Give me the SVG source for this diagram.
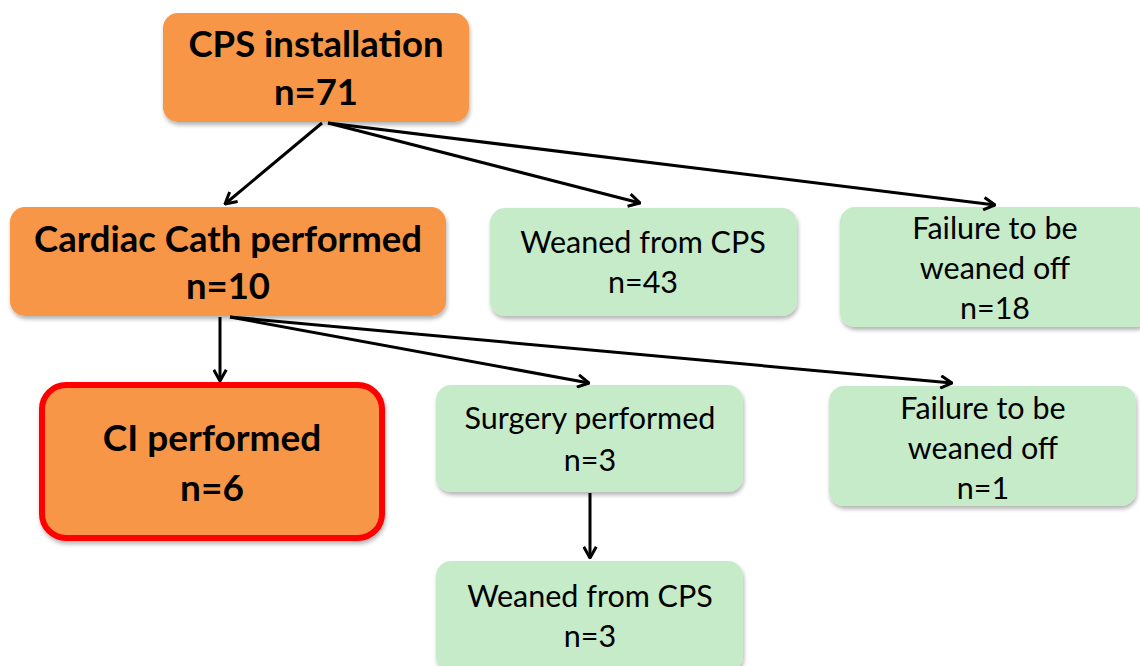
<svg xmlns="http://www.w3.org/2000/svg" width="1140" height="666" viewBox="0 0 1140 666">
<style>
.or{fill:#F79646;}
.gr{fill:#C6EBC9;}
.bt{font-family:Lato,"Open Sans","Liberation Sans",sans-serif;font-weight:bold;fill:#000;text-anchor:middle;}
.nt{font-family:Lato,"Open Sans","Liberation Sans",sans-serif;fill:#000;text-anchor:middle;font-size:30.5px;}
.cn{stroke:#000;stroke-width:3;fill:none;marker-end:url(#arr);}
</style>
<defs>
<marker id="arr" viewBox="0 0 12 12" refX="11" refY="6" markerWidth="5" markerHeight="5" orient="auto" markerUnits="strokeWidth">
<path d="M2,1 L11,6 L2,11" fill="none" stroke="#000" stroke-width="2.4" stroke-linejoin="miter"/>
</marker>
<filter id="sh" x="-5%" y="-5%" width="112%" height="120%">
<feGaussianBlur in="SourceAlpha" stdDeviation="2"/>
<feOffset dx="1" dy="3" result="b"/>
<feComponentTransfer><feFuncA type="linear" slope="0.3"/></feComponentTransfer>
<feMerge><feMergeNode/><feMergeNode in="SourceGraphic"/></feMerge>
</filter>
</defs>
<rect width="1140" height="666" fill="#fff"/>
<g id="n1"><rect class="or" x="163" y="13" width="306" height="109" rx="15" filter="url(#sh)"/>
<text class="bt" x="316" y="57" font-size="36.5">CPS installation</text>
<text class="bt" x="316" y="105" font-size="36.5">n=71</text></g>
<g id="n2"><rect class="or" x="10" y="207" width="436" height="109" rx="15" filter="url(#sh)"/>
<text class="bt" x="228" y="252" font-size="36.5">Cardiac Cath performed</text>
<text class="bt" x="228" y="299" font-size="36.5">n=10</text></g>
<g id="n3"><rect class="gr" x="490" y="208" width="307" height="108" rx="15" filter="url(#sh)"/>
<text class="nt" x="643" y="253">Weaned from CPS</text>
<text class="nt" x="643" y="293">n=43</text></g>
<g id="n4"><rect class="gr" x="840" y="207" width="310" height="120" rx="15" filter="url(#sh)"/>
<text class="nt" x="995" y="239">Failure to be</text>
<text class="nt" x="995" y="279">weaned off</text>
<text class="nt" x="995" y="319">n=18</text></g>
<g id="n5"><rect class="or" x="42" y="385" width="340" height="153" rx="24" stroke="#FF0000" stroke-width="6" filter="url(#sh)"/>
<text class="bt" x="212" y="451" font-size="37">CI performed</text>
<text class="bt" x="212" y="501" font-size="37">n=6</text></g>
<g id="n6"><rect class="gr" x="436" y="385" width="307" height="107" rx="15" filter="url(#sh)"/>
<text class="nt" x="590" y="429">Surgery performed</text>
<text class="nt" x="590" y="471">n=3</text></g>
<g id="n7"><rect class="gr" x="829" y="386" width="307" height="120" rx="15" filter="url(#sh)"/>
<text class="nt" x="983" y="419">Failure to be</text>
<text class="nt" x="983" y="459">weaned off</text>
<text class="nt" x="983" y="499">n=1</text></g>
<g id="n8"><rect class="gr" x="436" y="561" width="307" height="110" rx="15" filter="url(#sh)"/>
<text class="nt" x="590" y="607">Weaned from CPS</text>
<text class="nt" x="590" y="647">n=3</text></g>
<g id="connectors">
<line class="cn" x1="322" y1="123" x2="225" y2="204"/>
<line class="cn" x1="328" y1="123" x2="640" y2="203"/>
<line class="cn" x1="328" y1="123" x2="995" y2="205"/>
<line class="cn" x1="220" y1="317" x2="220" y2="381"/>
<line class="cn" x1="230" y1="317" x2="589" y2="383"/>
<line class="cn" x1="230" y1="317" x2="952" y2="383"/>
<line class="cn" x1="590" y1="493" x2="590" y2="558"/>
</g>
</svg>
